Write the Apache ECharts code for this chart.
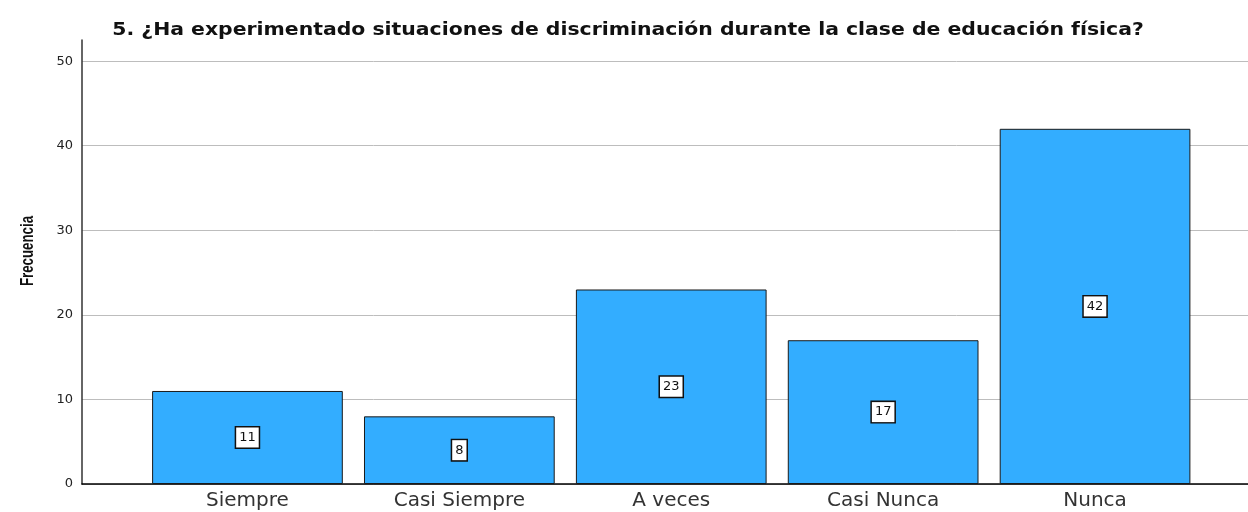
<!DOCTYPE html>
<html>
<head>
<meta charset="utf-8">
<script src="https://cdn.jsdelivr.net/npm/echarts@6/dist/echarts.min.js"></script>
<style>
  html, body { margin: 0; padding: 0; background: #fff; }
  #chart { width: 1248px; height: 512px; }
</style>
</head>
<body>
<div id="chart"></div>
<script>
const title = "5. ¿Ha experimentado situaciones de discriminación durante la clase de educación física?";
const yName = "Frecuencia";
const categories = ["Siempre", "Casi Siempre", "A veces", "Casi Nunca", "Nunca"];
const frequencies = [11, 8, 23, 17, 42];
const yTicks = [0, 10, 20, 30, 40, 50];

const yMax = 52.5;
const chart = echarts.init(document.getElementById("chart"));

const option = {
  animation: false,
  backgroundColor: "#fff",
  // title and y axis name are drawn as graphic text so they can be stretched like the original
  graphic: [
    {
      type: "text",
      x: 628,
      y: 31,
      scaleX: 1.2,
      style: {
        text: title,
        font: "bold 17px 'DejaVu Sans'",
        fill: "#111",
        align: "center",
        verticalAlign: "middle",
      },
    },
    {
      type: "text",
      x: 28,
      y: 251,
      rotation: Math.PI / 2,
      scaleX: 0.7,
      style: {
        text: yName,
        font: "bold 19px 'Liberation Sans', Arial",
        fill: "#111",
        align: "center",
        verticalAlign: "middle",
      },
    },
  ],
  grid: [
    // frame: y axis line, grid lines and baseline
    { left: 82, right: 0, top: 40, bottom: 28 },
    // bars
    { left: 141.5, right: 47, top: 40, bottom: 28 },
  ],
  xAxis: [
    {
      gridIndex: 0,
      type: "category",
      data: [""],
      axisLine: { show: true, lineStyle: { color: "#000", width: 1.5 } },
      axisTick: { show: false },
      axisLabel: { show: false },
    },
    {
      gridIndex: 1,
      type: "category",
      data: categories,
      axisLine: { show: false },
      axisTick: { show: false },
      axisLabel: { color: "#333", fontFamily: "DejaVu Sans", fontSize: 20, margin: 7 },
    },
  ],
  yAxis: [
    {
      gridIndex: 0,
      type: "value",
      min: 0,
      max: yMax,
      interval: 10,
      axisLine: { show: true, lineStyle: { color: "#333", width: 1.5 } },
      axisTick: { show: false },
      axisLabel: {
        color: "#222",
        fontFamily: "DejaVu Sans",
        fontSize: 13,
        margin: 9,
        showMaxLabel: false,
        formatter: (v) => (yTicks.includes(v) ? String(v) : ""),
      },
      splitLine: { show: true, showMaxLine: false, lineStyle: { color: "#bdbdbd", width: 1 } },
    },
    {
      gridIndex: 1,
      type: "value",
      min: 0,
      max: yMax,
      interval: 10,
      show: false,
      splitLine: { show: false },
    },
  ],
  series: [
    {
      type: "bar",
      xAxisIndex: 1,
      yAxisIndex: 1,
      data: frequencies,
      barWidth: "90%",
      itemStyle: { color: "#33adff", borderColor: "#1a1a1a", borderWidth: 1 },
      label: {
        show: true,
        position: "inside",
        color: "#111",
        fontFamily: "DejaVu Sans",
        fontSize: 13,
        backgroundColor: "#fff",
        borderColor: "#111",
        borderWidth: 1.5,
        padding: [4, 3, 3, 3],
      },
    },
  ],
};

chart.setOption(option);
window.addEventListener("resize", () => chart.resize());
</script>
</body>
</html>
